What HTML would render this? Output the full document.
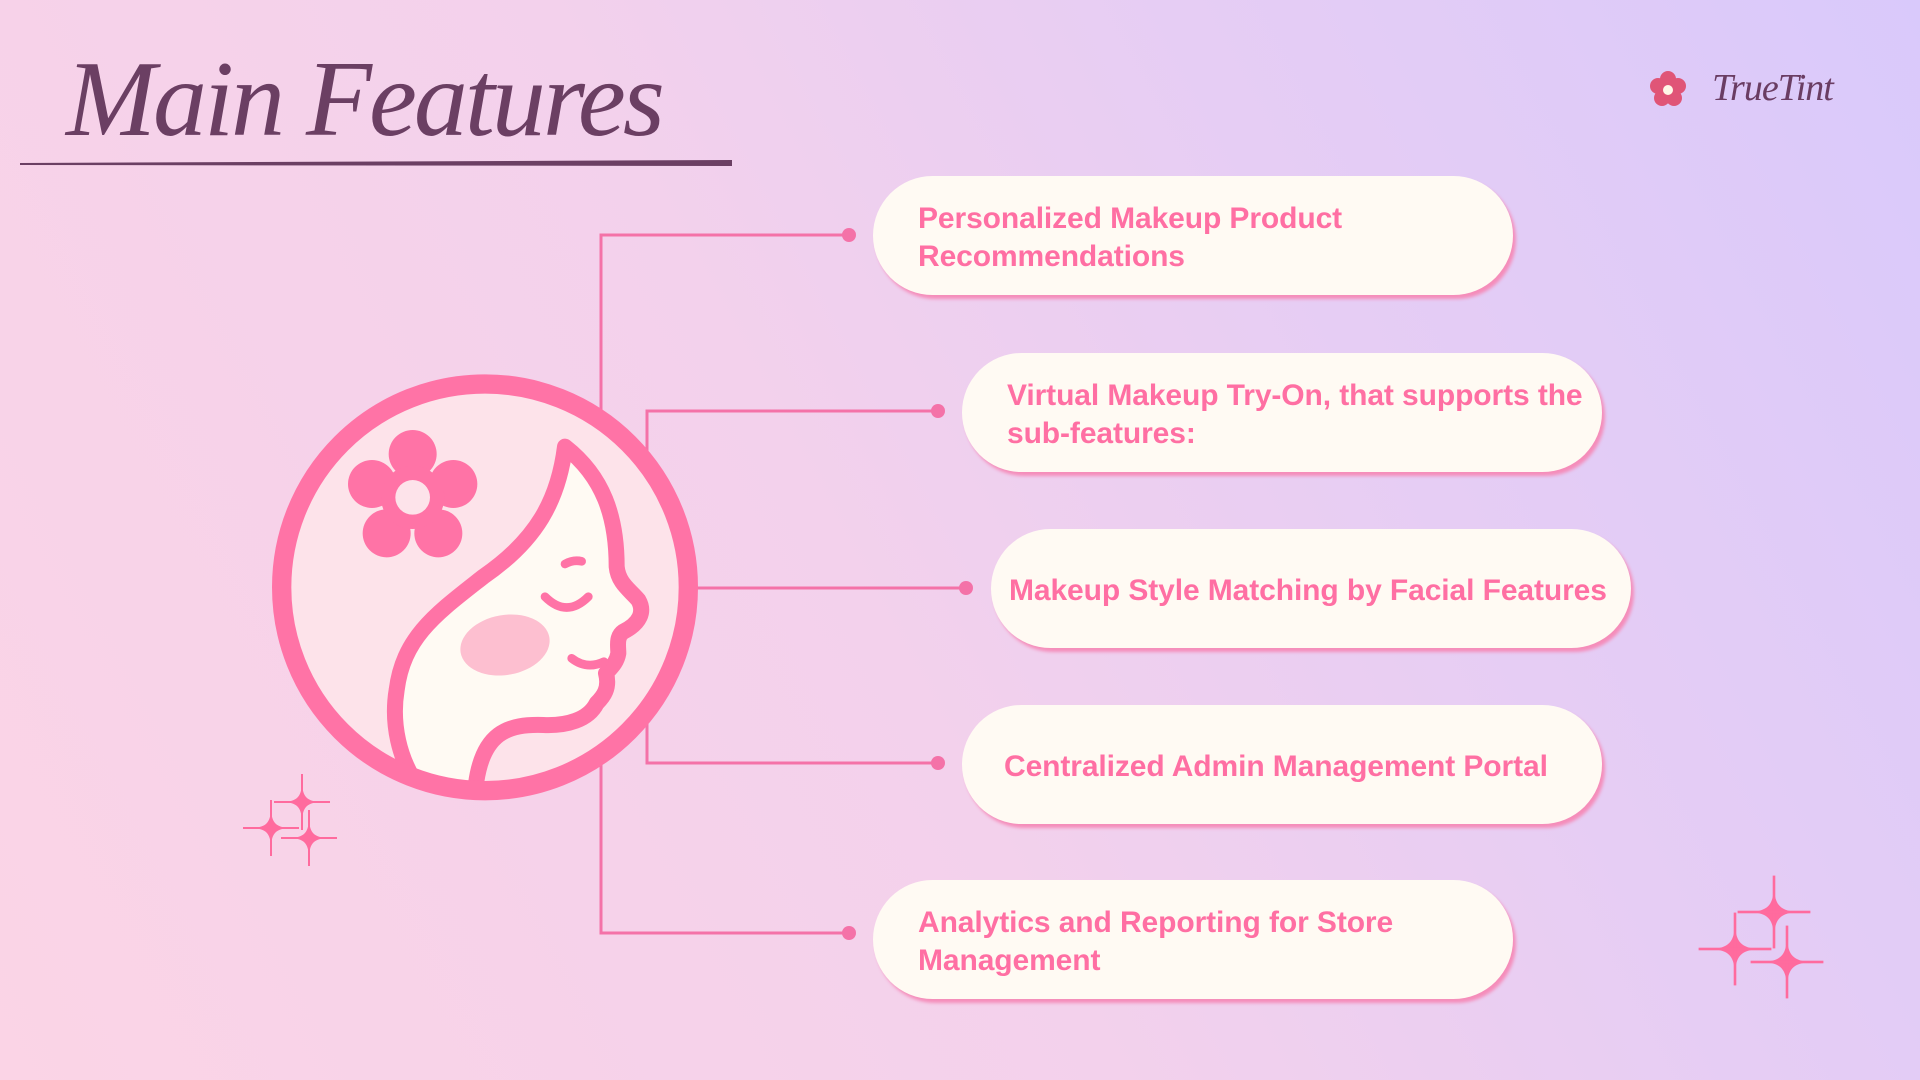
<!DOCTYPE html>
<html><head><meta charset="utf-8">
<style>
html,body{margin:0;padding:0}
body{width:1920px;height:1080px;position:relative;overflow:hidden;
background:linear-gradient(62deg,#fbd4e6 0%,#f3d1ec 45%,#e6cdf4 70%,#d9c9fb 100%);
font-family:"Liberation Sans",sans-serif}
.pill{position:absolute;width:640px;height:119px;border-radius:60px;background:#fffaf3;
box-shadow:3px 4px 3px #f58dba;display:flex;align-items:center;box-sizing:border-box;padding-left:45px;padding-top:4px;
color:#ff6fa3;font-weight:bold;font-size:30px;line-height:38px;letter-spacing:-0.1px;white-space:nowrap}
.title{position:absolute;left:66px;top:38px;font-family:"Liberation Serif",serif;font-style:italic;font-size:108px;color:#6b3f63;letter-spacing:-3px}
.logo{position:absolute;left:1712px;top:66px;font-family:"Liberation Serif",serif;font-style:italic;font-size:38px;color:#6a3d63;letter-spacing:-1px}
</style></head><body>
<div class="title">Main Features</div>
<svg width="1920" height="1080" style="position:absolute;left:0;top:0">
<path d="M20,163 L732,160 L732,166 L20,165 Z" fill="#6b3f63"/>
<g fill="#e05577"><circle cx="1668" cy="79" r="8"/><circle cx="1678" cy="86" r="8"/><circle cx="1674" cy="98" r="8"/><circle cx="1662" cy="98" r="8"/><circle cx="1658" cy="86" r="8"/><circle cx="1668" cy="90" r="9"/></g>
<circle cx="1668" cy="90" r="5" fill="#fff8e8"/>
<g stroke="#f472a8" stroke-width="3" fill="none">
<polyline points="849,235 601,235 601,933 849,933"/>
<polyline points="938,411 647,411 647,763 938,763"/>
<line x1="690" y1="588" x2="966" y2="588"/>
</g>
<g fill="#f472a8"><circle cx="849" cy="235" r="7"/><circle cx="938" cy="411" r="7"/><circle cx="966" cy="588" r="7"/><circle cx="938" cy="763" r="7"/><circle cx="849" cy="933" r="7"/></g>
<defs><g id="st"><path d="M0,-18 C1,-5 5,-1 18,0 C5,1 1,5 0,18 C-1,5 -5,1 -18,0 C-5,-1 -1,-5 0,-18Z"/><rect x="-1" y="-28" width="2" height="56"/><rect x="-28" y="-1" width="56" height="2"/></g></defs>
<g fill="#ff6b9e">
<use href="#st" transform="translate(302,802)"/>
<use href="#st" transform="translate(271,828)"/>
<use href="#st" transform="translate(309,838)"/>
<use href="#st" transform="translate(1774,912) scale(1.3)"/>
<use href="#st" transform="translate(1735,949) scale(1.3)"/>
<use href="#st" transform="translate(1787,962) scale(1.3)"/>
</g>
</svg>
<svg width="460" height="460" viewBox="0 0 1380 1380" style="position:absolute;left:250px;top:360px">
<defs><clipPath id="cc"><circle cx="705" cy="682" r="585"/></clipPath></defs>
<circle cx="705" cy="682" r="610" fill="#fde3ea"/>
<g clip-path="url(#cc)">
<path d="M945,260 C1060,350 1100,470 1100,620 C1105,670 1140,690 1165,720 C1185,755 1170,790 1120,815 C1098,830 1105,860 1105,880 C1100,910 1080,925 1068,940 C1080,985 1060,1010 1040,1030 C1015,1080 950,1098 880,1095 C780,1092 690,1110 675,1300 L520,1300 C440,1200 425,1080 440,990 C460,830 560,760 700,650 C860,540 925,420 945,260 Z" fill="#fffaf3" stroke="#ff73a6" stroke-width="48" stroke-linejoin="round"/>
<ellipse cx="765" cy="855" rx="135" ry="90" transform="rotate(-10 765 855)" fill="#fdbfd0"/>
<g stroke="#ff73a6" stroke-width="26" fill="none" stroke-linecap="round">
<path d="M885,710 Q950,775 1015,710"/>
<path d="M945,612 Q970,598 995,604"/>
<path d="M965,895 Q1010,930 1062,905"/>
</g>
</g>
<circle cx="705" cy="682" r="610" fill="none" stroke="#ff73a6" stroke-width="58"/>
<g fill="#ff73a6">
<circle cx="488" cy="282" r="72"/><circle cx="610" cy="372" r="72"/><circle cx="565" cy="520" r="72"/><circle cx="410" cy="520" r="72"/><circle cx="366" cy="372" r="72"/><circle cx="488" cy="412" r="95"/>
</g>
<circle cx="488" cy="412" r="52" fill="#fde3ea"/>
</svg>
<div class="logo">TrueTint</div>
<div class="pill" style="left:873px;top:176px">Personalized Makeup Product<br>Recommendations</div>
<div class="pill" style="left:962px;top:353px">Virtual Makeup Try-On, that supports the<br>sub-features:</div>
<div class="pill" style="left:991px;top:529px;padding-left:18px">Makeup Style Matching by Facial Features</div>
<div class="pill" style="left:962px;top:705px;padding-left:42px">Centralized Admin Management Portal</div>
<div class="pill" style="left:873px;top:880px">Analytics and Reporting for Store<br>Management</div>
</body></html>
